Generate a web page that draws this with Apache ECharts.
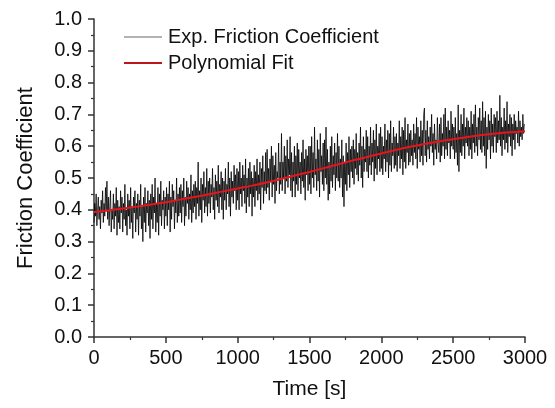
<!DOCTYPE html>
<html>
<head>
<meta charset="utf-8">
<script src="https://cdn.jsdelivr.net/npm/echarts@6/dist/echarts.min.js"></script>
<style>html,body{margin:0;padding:0;background:#fff}#c{width:555px;height:408px}</style>
</head>
<body>
<div id="c"></div>
<script>
// Time step of experimental samples (s)
const expStep = 5;
// Experimental friction coefficient, one value every 5 s from t = 0
const expValues = [
  0.36,0.42,0.38,0.45,0.35,0.40,0.44,0.37,0.41,0.34,0.43,0.39,0.46,0.36,0.42,0.38,0.47,0.40,0.49,0.37,
  0.44,0.35,0.41,0.46,0.33,0.40,0.37,0.45,0.34,0.42,0.38,0.47,0.32,0.43,0.36,0.41,0.34,0.46,0.39,0.44,
  0.33,0.42,0.37,0.48,0.35,0.40,0.32,0.45,0.38,0.43,0.34,0.47,0.36,0.41,0.31,0.44,0.39,0.46,0.33,0.42,
  0.37,0.45,0.32,0.43,0.38,0.48,0.34,0.41,0.30,0.44,0.36,0.47,0.33,0.42,0.39,0.46,0.35,0.43,0.31,0.45,
  0.37,0.48,0.34,0.44,0.39,0.50,0.33,0.42,0.36,0.47,0.32,0.45,0.38,0.49,0.35,0.43,0.40,0.46,0.34,0.44,
  0.38,0.47,0.35,0.45,0.40,0.49,0.33,0.44,0.37,0.48,0.41,0.46,0.34,0.43,0.39,0.50,0.36,0.45,0.38,0.47,
  0.39,0.48,0.36,0.46,0.41,0.50,0.35,0.44,0.38,0.49,0.42,0.47,0.37,0.45,0.40,0.51,0.36,0.46,0.39,0.48,
  0.41,0.49,0.37,0.47,0.42,0.55,0.38,0.46,0.40,0.50,0.36,0.48,0.43,0.52,0.39,0.47,0.41,0.53,0.38,0.49,
  0.42,0.50,0.39,0.48,0.44,0.53,0.40,0.47,0.37,0.51,0.43,0.49,0.41,0.54,0.39,0.48,0.44,0.52,0.40,0.50,
  0.37,0.49,0.43,0.53,0.40,0.48,0.45,0.55,0.41,0.50,0.38,0.52,0.44,0.49,0.42,0.54,0.46,0.51,0.40,0.53,
  0.43,0.52,0.40,0.55,0.45,0.50,0.41,0.54,0.46,0.51,0.42,0.56,0.39,0.50,0.44,0.53,0.41,0.55,0.45,0.52,
  0.38,0.50,0.44,0.54,0.41,0.52,0.46,0.56,0.43,0.51,0.45,0.55,0.40,0.53,0.47,0.57,0.42,0.52,0.46,0.58,
  0.45,0.59,0.47,0.53,0.43,0.56,0.49,0.60,0.44,0.57,0.48,0.54,0.42,0.58,0.46,0.52,0.50,0.61,0.45,0.55,
  0.48,0.64,0.46,0.55,0.50,0.60,0.45,0.57,0.49,0.62,0.47,0.56,0.51,0.63,0.46,0.58,0.44,0.55,0.49,0.60,
  0.44,0.57,0.48,0.61,0.46,0.59,0.50,0.55,0.45,0.58,0.49,0.62,0.47,0.56,0.43,0.59,0.51,0.57,0.46,0.60,
  0.48,0.60,0.45,0.63,0.50,0.58,0.47,0.66,0.51,0.56,0.46,0.62,0.49,0.59,0.44,0.64,0.52,0.57,0.48,0.61,
  0.46,0.62,0.50,0.66,0.48,0.59,0.43,0.55,0.45,0.60,0.49,0.63,0.47,0.57,0.51,0.61,0.46,0.58,0.50,0.64,
  0.49,0.60,0.47,0.56,0.50,0.62,0.44,0.57,0.41,0.55,0.48,0.61,0.46,0.58,0.51,0.63,0.47,0.59,0.52,0.60,
  0.50,0.62,0.48,0.59,0.53,0.64,0.51,0.58,0.49,0.61,0.54,0.66,0.50,0.60,0.47,0.63,0.52,0.59,0.55,0.65,
  0.52,0.63,0.50,0.60,0.54,0.66,0.51,0.61,0.55,0.65,0.49,0.62,0.53,0.67,0.51,0.60,0.56,0.64,0.52,0.66,
  0.53,0.63,0.51,0.60,0.56,0.67,0.52,0.62,0.55,0.65,0.50,0.64,0.54,0.68,0.52,0.61,0.57,0.66,0.53,0.63,
  0.54,0.64,0.52,0.61,0.57,0.68,0.53,0.63,0.56,0.66,0.51,0.65,0.55,0.69,0.53,0.62,0.58,0.67,0.54,0.64,
  0.55,0.65,0.57,0.62,0.54,0.67,0.58,0.64,0.56,0.69,0.53,0.66,0.59,0.63,0.55,0.68,0.57,0.65,0.54,0.70,
  0.72,0.57,0.65,0.55,0.68,0.59,0.63,0.56,0.66,0.60,0.70,0.58,0.64,0.54,0.67,0.59,0.62,0.56,0.69,0.61,
  0.58,0.67,0.55,0.69,0.57,0.64,0.60,0.70,0.56,0.72,0.59,0.66,0.57,0.68,0.61,0.65,0.56,0.71,0.60,0.67,
  0.59,0.66,0.56,0.69,0.58,0.64,0.54,0.73,0.52,0.65,0.58,0.70,0.57,0.67,0.60,0.72,0.56,0.66,0.61,0.69,
  0.60,0.68,0.57,0.66,0.59,0.71,0.56,0.67,0.61,0.70,0.58,0.73,0.60,0.66,0.57,0.69,0.62,0.72,0.59,0.68,
  0.58,0.74,0.60,0.69,0.57,0.71,0.53,0.66,0.59,0.70,0.62,0.68,0.56,0.72,0.60,0.67,0.58,0.70,0.63,0.69,
  0.58,0.71,0.61,0.68,0.62,0.76,0.60,0.69,0.57,0.66,0.62,0.72,0.59,0.68,0.61,0.74,0.58,0.67,0.63,0.70,
  0.60,0.69,0.57,0.67,0.62,0.70,0.59,0.68,0.64,0.66,0.61,0.71,0.60,0.68,0.63,0.66,0.62,0.70,0.64,0.67
];
// Polynomial fit, sampled every 100 s from t = 0 to 3000
const fitStep = 100;
const fitValues = [
  0.393,0.398,0.404,0.410,0.417,0.424,0.432,0.440,0.449,0.458,
  0.467,0.476,0.486,0.497,0.508,0.519,0.531,0.543,0.555,0.566,
  0.577,0.588,0.598,0.607,0.615,0.622,0.629,0.635,0.640,0.644,0.647
];
const xTicks = [0, 500, 1000, 1500, 2000, 2500, 3000];
const yTicks = [0.0, 0.1, 0.2, 0.3, 0.4, 0.5, 0.6, 0.7, 0.8, 0.9, 1.0];
const seriesNames = ['Exp. Friction Coefficient', 'Polynomial Fit'];

const expData = expValues.map((v, i) => [i * expStep, v]);
const fitData = fitValues.map((v, i) => [i * fitStep, v]);

const font = 'Liberation Sans, Arial, sans-serif';
const txt = '#111';
const axisCol = '#333';

const chart = echarts.init(document.getElementById('c'), null, {renderer: 'canvas'});
chart.setOption({
  animation: false,
  backgroundColor: '#fff',
  grid: {left: 94, right: 30, top: 19, bottom: 71, containLabel: false},
  legend: {
    orient: 'vertical', left: 124, top: 27, padding: 0,
    itemWidth: 38, itemHeight: 14, itemGap: 6,
    textStyle: {fontFamily: font, fontSize: 20, color: txt, padding: [0, 0, 0, 1]},
    data: [
      {name: seriesNames[0], icon: 'path://M0,0 L38,0 L38,1.2 L0,1.2 Z', itemStyle: {color: '#666'}},
      {name: seriesNames[1], icon: 'path://M0,0 L38,0 L38,2 L0,2 Z', itemStyle: {color: '#c0141c'}}
    ]
  },
  xAxis: {
    type: 'value', min: xTicks[0], max: xTicks[xTicks.length - 1], interval: 500,
    name: 'Time [s]', nameLocation: 'middle', nameGap: 42,
    nameTextStyle: {fontFamily: font, fontSize: 21, color: txt},
    axisLine: {show: true, lineStyle: {color: axisCol, width: 1.5}},
    axisTick: {show: true, inside: false, length: 6, lineStyle: {color: axisCol, width: 1.5}},
    minorTick: {show: true, splitNumber: 2, length: 3, lineStyle: {color: axisCol, width: 1.2}},
    axisLabel: {fontFamily: font, fontSize: 20, color: txt, margin: 11, formatter: v => String(v)},
    splitLine: {show: false}
  },
  yAxis: {
    type: 'value', min: yTicks[0], max: yTicks[yTicks.length - 1], interval: 0.1,
    name: 'Friction Coefficient', nameLocation: 'middle', nameGap: 57,
    nameTextStyle: {fontFamily: font, fontSize: 22, color: txt},
    axisLine: {show: true, lineStyle: {color: axisCol, width: 1.5}},
    axisTick: {show: true, inside: false, length: 6, lineStyle: {color: axisCol, width: 1.5}},
    minorTick: {show: true, splitNumber: 2, length: 3, lineStyle: {color: axisCol, width: 1.2}},
    axisLabel: {fontFamily: font, fontSize: 20, color: txt, margin: 12, formatter: v => v.toFixed(1)},
    splitLine: {show: false}
  },
  series: [
    {
      name: seriesNames[0], type: 'line', data: expData, showSymbol: false, symbol: 'none',
      lineStyle: {color: '#000', width: 0.8}, itemStyle: {color: '#666'}, z: 2
    },
    {
      name: seriesNames[1], type: 'line', data: fitData, showSymbol: false, symbol: 'none', smooth: true,
      lineStyle: {color: '#e8141c', width: 2}, itemStyle: {color: '#c0141c'}, z: 3
    }
  ]
});
</script>
</body>
</html>
